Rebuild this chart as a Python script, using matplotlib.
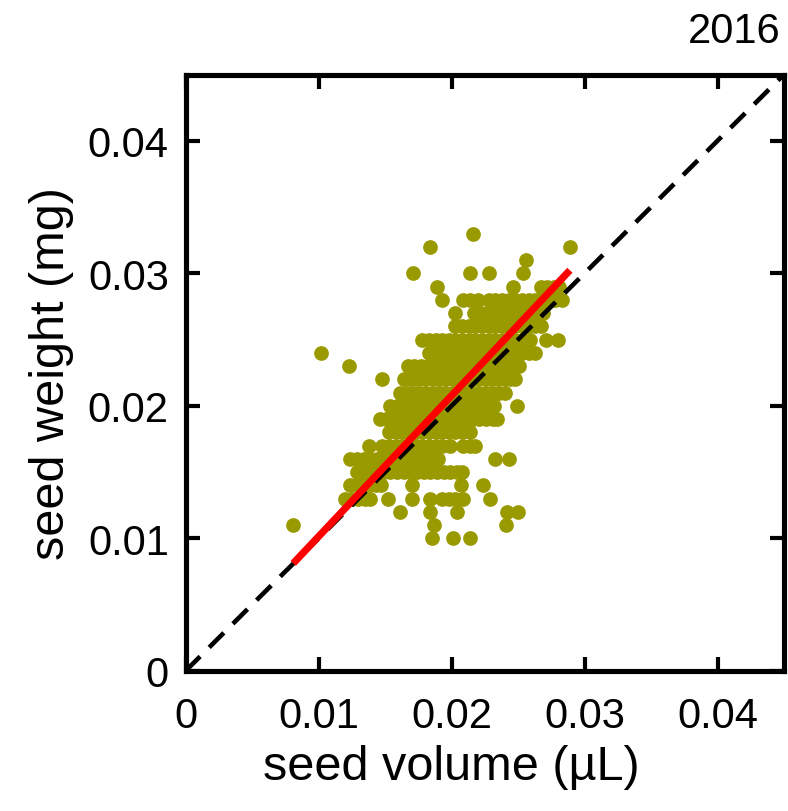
import matplotlib
matplotlib.use("Agg")
import matplotlib.pyplot as plt
import numpy as np

plt.rcParams['font.family'] = ['Liberation Sans', 'DejaVu Sans']

# seed weight rows (mg) and the seed volumes (uL) observed in each row
row_weights = [0.033, 0.032, 0.031, 0.030, 0.029, 0.028, 0.027, 0.026, 0.025,
               0.024, 0.023, 0.022, 0.021, 0.020, 0.019, 0.018, 0.017, 0.016,
               0.015, 0.014, 0.013, 0.012, 0.011, 0.010]
row_volumes = [
    [0.0216],
    [0.0184, 0.0289],
    [0.0256],
    [0.0171, 0.0214, 0.0228, 0.0254],
    [0.0189, 0.0246, 0.0267, 0.0272, 0.0277, 0.0281],
    [0.0193, 0.0209, 0.0214, 0.0220, 0.0228, 0.0233, 0.0238, 0.0243, 0.0248,
     0.0253, 0.0258, 0.0263, 0.0268, 0.0273, 0.0278, 0.0283],
    [0.0203, 0.0217, 0.0222, 0.0227, 0.0232, 0.0237, 0.0242, 0.0247, 0.0252,
     0.0257, 0.0262, 0.0266, 0.0269],
    [0.0203, 0.0208, 0.0213, 0.0218, 0.0223, 0.0228, 0.0233, 0.0238, 0.0243,
     0.0248, 0.0253, 0.0258, 0.0263, 0.0267],
    [0.0178, 0.0183, 0.0188, 0.0193, 0.0198, 0.0203, 0.0208, 0.0213, 0.0218,
     0.0223, 0.0228, 0.0233, 0.0238, 0.0243, 0.0248, 0.0253, 0.0259, 0.0271,
     0.0280],
    [0.0102, 0.0183, 0.0188, 0.0193, 0.0198, 0.0203, 0.0208, 0.0213, 0.0218,
     0.0223, 0.0228, 0.0233, 0.0238, 0.0243, 0.0248, 0.0253, 0.0258, 0.0263],
    [0.0123, 0.0167, 0.0172, 0.0177, 0.0182, 0.0187, 0.0192, 0.0197, 0.0202,
     0.0207, 0.0212, 0.0217, 0.0222, 0.0227, 0.0232, 0.0237, 0.0242, 0.0247,
     0.0251],
    [0.0148, 0.0164, 0.0169, 0.0174, 0.0180, 0.0185, 0.0190, 0.0195, 0.0200,
     0.0205, 0.0210, 0.0215, 0.0220, 0.0225, 0.0230, 0.0235, 0.0240, 0.0244,
     0.0248],
    [0.0161, 0.0166, 0.0171, 0.0176, 0.0181, 0.0186, 0.0191, 0.0196, 0.0201,
     0.0206, 0.0211, 0.0216, 0.0221, 0.0226, 0.0231, 0.0236, 0.0240],
    [0.0154, 0.0159, 0.0164, 0.0169, 0.0174, 0.0179, 0.0184, 0.0189, 0.0194,
     0.0199, 0.0204, 0.0209, 0.0214, 0.0219, 0.0224, 0.0229, 0.0232, 0.0249],
    [0.0146, 0.0151, 0.0156, 0.0161, 0.0166, 0.0171, 0.0176, 0.0181, 0.0186,
     0.0191, 0.0196, 0.0201, 0.0206, 0.0211, 0.0216, 0.0221, 0.0226, 0.0231,
     0.0234],
    [0.0153, 0.0158, 0.0163, 0.0168, 0.0173, 0.0178, 0.0183, 0.0188, 0.0193,
     0.0198, 0.0203, 0.0208, 0.0214],
    [0.0138, 0.0148, 0.0153, 0.0158, 0.0163, 0.0168, 0.0173, 0.0178, 0.0183,
     0.0188, 0.0193, 0.0199, 0.0209, 0.0214, 0.0218],
    [0.0124, 0.0129, 0.0134, 0.0139, 0.0144, 0.0149, 0.0154, 0.0159, 0.0164,
     0.0169, 0.0174, 0.0179, 0.0184, 0.0190, 0.0233, 0.0243],
    [0.0129, 0.0134, 0.0139, 0.0144, 0.0149, 0.0154, 0.0159, 0.0164, 0.0169,
     0.0174, 0.0179, 0.0184, 0.0189, 0.0194, 0.0199, 0.0204, 0.0208],
    [0.0124, 0.0129, 0.0134, 0.0139, 0.0143, 0.0147, 0.0170, 0.0207, 0.0224],
    [0.0120, 0.0125, 0.0130, 0.0135, 0.0139, 0.0152, 0.0170, 0.0184, 0.0193,
     0.0198, 0.0203, 0.0209, 0.0229],
    [0.0161, 0.0184, 0.0204, 0.0242, 0.0250],
    [0.0081, 0.0187, 0.0241],
    [0.0185, 0.0201, 0.0214],
]

# fitted regression line
fit_slope = 1.063
fit_intercept = -0.00049
fit_x_range = [0.0081, 0.0289]

# 1:1 reference line
ref_range = [0.0, 0.045]

ticks = [0, 0.01, 0.02, 0.03, 0.04]
tick_labels = ['0', '0.01', '0.02', '0.03', '0.04']

fig = plt.figure(figsize=(7.88, 8.12), dpi=100)
ax = fig.add_axes([185.5 / 788, 1 - 672 / 812, (784 - 185.5) / 788, (672 - 75.5) / 812])

xs, ys = [], []
for w, vols in zip(row_weights, row_volumes):
    for v in vols:
        xs.append(v)
        ys.append(w)
ax.plot(xs, ys, 'o', color='#999900', markersize=10.6, markeredgewidth=0, zorder=2)

ax.plot(ref_range, ref_range, color='black', lw=3.3, dashes=(4.5, 2.8), zorder=3)
fx = np.array(fit_x_range)
ax.plot(fx, fit_slope * fx + fit_intercept, color='#ff0000', lw=5.2, solid_capstyle='butt', zorder=4)

ax.set_xlim(0, 0.045)
ax.set_ylim(0, 0.045)
ax.set_xticks(ticks)
ax.set_xticklabels(tick_labels)
ax.set_yticks(ticks)
ax.set_yticklabels(tick_labels)
ax.tick_params(direction='in', length=10, width=3, labelsize=30, top=True, right=True)
ax.tick_params(axis='x', pad=18)
ax.tick_params(axis='y', pad=12)
for s in ax.spines.values():
    s.set_linewidth(3.7)

ax.set_xlabel('seed volume (µL)', fontsize=35)
ax.xaxis.set_label_coords(0.4436, -0.122)
ax.set_ylabel('seed weight (mg)', fontsize=35, labelpad=10)
fig.text(781 / 788, 1 - 32 / 812, '2016', fontsize=30, ha='right', va='center')

fig.savefig('out.png', dpi=100)
